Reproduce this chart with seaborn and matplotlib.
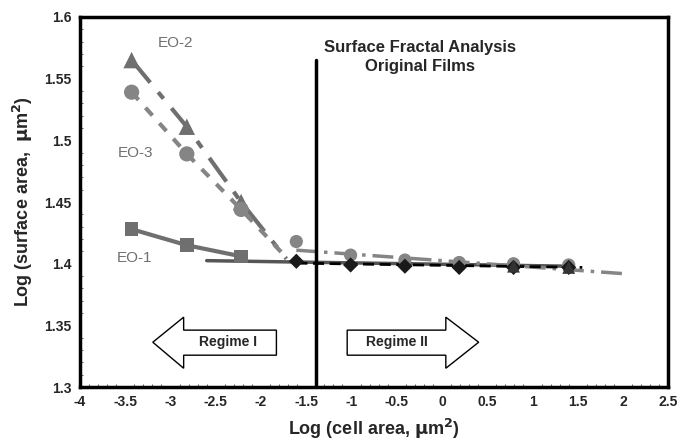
import matplotlib
matplotlib.use("Agg")
import matplotlib.pyplot as plt
import seaborn as sns
import numpy as np
import pandas as pd
from matplotlib.patches import Polygon
from matplotlib.ticker import MultipleLocator

sns.set_style("white")
plt.rcParams['font.family'] = ['Liberation Sans', 'DejaVu Sans']

# ---- data ----
x_reg1 = [-3.43, -2.82, -2.22]
eo2_reg1 = [1.565, 1.511, 1.450]
eo3_reg1 = [1.539, 1.489, 1.444]
eo1_reg1 = [1.428, 1.415, 1.406]

x_reg2 = [-1.61, -1.01, -0.41, 0.19, 0.79, 1.40]
eo3_reg2 = [1.418, 1.407, 1.403, 1.401, 1.400, 1.399]
eo1_reg2 = [1.402, 1.399, 1.398, 1.397, 1.397, 1.397]
x_tri2 = [0.79, 1.40]
eo2_reg2 = [1.398, 1.397]

# trend lines
eo2_line_x = [-3.43, -2.82, -2.22, -1.72]
eo2_line_y = [1.565, 1.511, 1.450, 1.404]
eo3_line_x = [-3.43, -2.82, -2.22, -1.72]
eo3_line_y = [1.539, 1.489, 1.444, 1.405]
eo1_line_x = [-3.43, -2.82, -2.22]
eo1_line_y = [1.428, 1.415, 1.406]
fit_solid_x = [-2.6, 1.4]
fit_solid_y = [1.4025, 1.398]
fit_dashdot_x = [-1.61, 2.0]
fit_dashdot_y = [1.411, 1.392]
fit_black_x = [-1.61, 1.55]
fit_black_y = [1.4005, 1.397]

xticks = [-4, -3.5, -3, -2.5, -2, -1.5, -1, -0.5, 0, 0.5, 1, 1.5, 2, 2.5]
yticks = [1.3, 1.35, 1.4, 1.45, 1.5, 1.55, 1.6]

gray = "#6f6f6f"
gray2 = "#858585"

fig = plt.figure(figsize=(6.84, 4.45), dpi=100)
ax = fig.add_axes([0.117, 0.130, 0.860, 0.832])

# lines
sns.lineplot(x=fit_solid_x, y=fit_solid_y, ax=ax, color="#555555", lw=2.5, estimator=None, sort=False)
sns.lineplot(x=fit_dashdot_x, y=fit_dashdot_y, ax=ax, color=gray2, lw=2.5, estimator=None, sort=False,
             linestyle=(0, (6, 2, 1, 2)))
sns.lineplot(x=fit_black_x, y=fit_black_y, ax=ax, color="black", lw=2, estimator=None, sort=False,
             linestyle=(0, (4, 2)))
sns.lineplot(x=eo1_line_x, y=eo1_line_y, ax=ax, color=gray, lw=3, estimator=None, sort=False)
sns.lineplot(x=eo2_line_x, y=eo2_line_y, ax=ax, color=gray, lw=3, estimator=None, sort=False,
             linestyle=(0, (7, 3, 2, 3)))
sns.lineplot(x=eo3_line_x, y=eo3_line_y, ax=ax, color=gray2, lw=3, estimator=None, sort=False,
             linestyle=(0, (2.5, 2.5)))

# markers
sns.scatterplot(x=x_reg2, y=eo1_reg2, ax=ax, marker="D", color="#1a1a1a", s=60, edgecolor="none", zorder=5)
sns.scatterplot(x=x_tri2, y=eo2_reg2, ax=ax, marker="^", color="#333333", s=85, edgecolor="none", zorder=5)
sns.scatterplot(x=x_reg2, y=eo3_reg2, ax=ax, marker="o", color=gray2, s=90, edgecolor="none", zorder=4)
sns.scatterplot(x=x_reg1, y=eo2_reg1, ax=ax, marker="^", color=gray, s=140, edgecolor="none", zorder=5)
sns.scatterplot(x=x_reg1, y=eo3_reg1, ax=ax, marker="o", color=gray2, s=120, edgecolor="none", zorder=5)
sns.scatterplot(x=x_reg1, y=eo1_reg1, ax=ax, marker="s", color=gray, s=95, edgecolor="none", zorder=5)

# vertical divider
ax.plot([-1.39, -1.39], [1.3, 1.565], color="black", lw=2.5, zorder=6)

# regime arrows
left_arrow = [(-3.196, 1.3364), (-2.855, 1.3567), (-2.855, 1.3462), (-1.830, 1.3462),
              (-1.830, 1.3259), (-2.855, 1.3259), (-2.855, 1.3153)]
right_arrow = [(0.405, 1.3364), (0.042, 1.3567), (0.042, 1.3462), (-1.048, 1.3462),
               (-1.048, 1.3259), (0.042, 1.3259), (0.042, 1.3153)]
for pts in (left_arrow, right_arrow):
    ax.add_patch(Polygon(pts, closed=True, facecolor="white", edgecolor="black", lw=1))
ax.text(-2.36, 1.3362, "Regime I", ha="center", va="center", fontsize=10, fontweight="bold")
ax.text(-0.50, 1.3362, "Regime II", ha="center", va="center", fontsize=10, fontweight="bold")

# annotations
ax.text(-0.24, 1.5675, "Surface Fractal Analysis\nOriginal Films", ha="center", va="center",
        fontsize=12, fontweight="bold", linespacing=1.3)
ax.text(-3.14, 1.5785, "EO-2", color=gray, fontsize=11, va="center")
ax.text(-3.58, 1.4895, "EO-3", color=gray, fontsize=11, va="center")
ax.text(-3.59, 1.4045, "EO-1", color=gray, fontsize=11, va="center")

ax.set_xlim(-4, 2.5)
ax.set_ylim(1.3, 1.6)
ax.set_xticks(xticks)
ax.set_xticklabels([f"{t:g}" for t in xticks])
ax.set_yticks(yticks)
ax.set_yticklabels([f"{t:g}" for t in yticks])
ax.xaxis.set_minor_locator(MultipleLocator(0.1))
ax.yaxis.set_minor_locator(MultipleLocator(0.01))
ax.tick_params(axis="both", which="major", length=0, labelsize=10, pad=6)
ax.tick_params(axis="both", which="minor", direction="in", length=2, width=0.5, bottom=True, left=True)
for lbl in ax.get_xticklabels() + ax.get_yticklabels():
    lbl.set_fontweight("bold")
for sp in ax.spines.values():
    sp.set_linewidth(2.5)
    sp.set_color("black")

ax.set_xlabel("Log (cell area, $\\mathbf{\\mu}$m$^\\mathbf{2}$)", fontsize=13, fontweight="bold", labelpad=5)
ax.set_ylabel("Log (surface area,  $\\mathbf{\\mu}$m$^\\mathbf{2}$)", fontsize=13, fontweight="bold", labelpad=7)

fig.savefig("out.png", dpi=100)
